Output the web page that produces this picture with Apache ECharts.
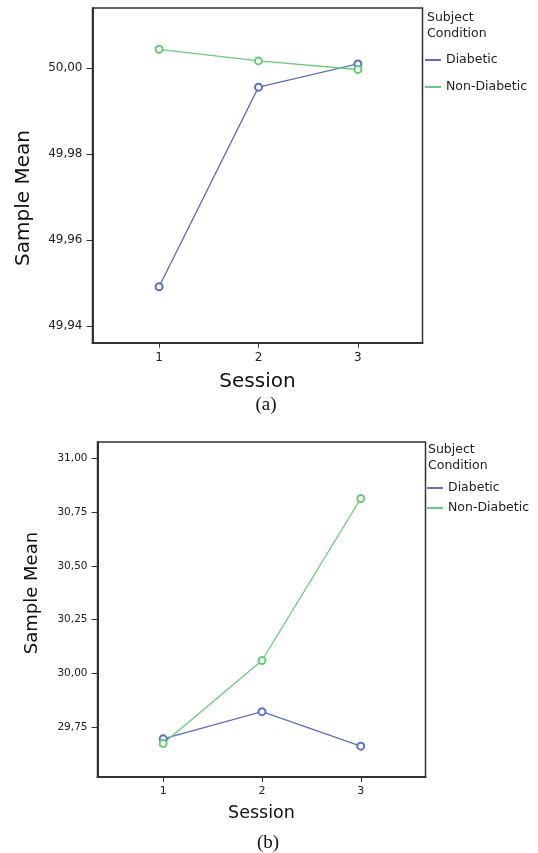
<!DOCTYPE html>
<html>
<head>
<meta charset="utf-8">
<script src="https://cdn.jsdelivr.net/npm/echarts@6/dist/echarts.min.js"></script>
<style>
  html, body { margin: 0; padding: 0; background: #fff; }
  #chart { width: 538px; height: 853px; }
</style>
</head>
<body>
<div id="chart"></div>
<script>
// sessions on the x axis
const sessions = [1, 2, 3];
const seriesNames = ['Diabetic', 'Non-Diabetic'];

// panel (a)
const diabeticA = [49.9491, 49.9955, 50.0009];
const nonDiabeticA = [50.0043, 50.0016, 49.9996];
const yTicksA = [49.94, 49.96, 49.98, 50.0];

// panel (b)
const diabeticB = [29.698, 29.824, 29.664];
const nonDiabeticB = [29.676, 30.061, 30.812];
const yTicksB = [29.75, 30.0, 30.25, 30.5, 30.75, 31.0];

const BLUE = '#5b6fc4';
const GREEN = '#66cc77';
const FONT = 'DejaVu Sans';

const chart = echarts.init(document.getElementById('chart'));

// comma decimals, like the original SPSS output
const fmt = (v) => v.toFixed(2).replace('.', ',');

function xAxisFor(gridIndex, min, max, fontSize) {
  return {
    type: 'value',
    gridIndex,
    min,
    max,
    axisLine: { show: true, lineStyle: { color: '#333', width: 2 } },
    axisTick: { show: true, customValues: sessions, length: 5, lineStyle: { color: '#333' } },
    axisLabel: { customValues: sessions, color: '#222', fontFamily: FONT, fontSize, margin: 9 },
    splitLine: { show: false },
    name: 'Session',
    nameLocation: 'middle',
    nameGap: gridIndex === 0 ? 29 : 27,
    nameTextStyle: { color: '#111', fontFamily: FONT, fontSize: gridIndex === 0 ? 20 : 17.5 }
  };
}

function yAxisFor(gridIndex, min, max, ticks, fontSize) {
  return {
    type: 'value',
    gridIndex,
    min,
    max,
    axisLine: { show: true, lineStyle: { color: '#333', width: 2 } },
    axisTick: { show: true, customValues: ticks, length: 6, lineStyle: { color: '#333' } },
    axisLabel: { customValues: ticks, formatter: fmt, color: '#222', fontFamily: FONT, fontSize, margin: 10 },
    splitLine: { show: false }
  };
}

function lineSeries(name, values, axisIndex, color) {
  return {
    name,
    type: 'line',
    xAxisIndex: axisIndex,
    yAxisIndex: axisIndex,
    data: sessions.map((s, i) => [s, values[i]]),
    color,
    symbol: 'emptyCircle',
    symbolSize: 7,
    lineStyle: { width: 1.3, color },
    itemStyle: { color, borderWidth: 1 },
    emphasis: { disabled: true },
    animation: false
  };
}

function legendAt(left, top, name, fontSize) {
  return {
    orient: 'vertical',
    left,
    top,
    padding: 0,
    data: [name],
    icon: 'rect',
    itemWidth: 16,
    itemHeight: 2,
    selectedMode: false,
    textStyle: { color: '#222', fontFamily: FONT, fontSize, lineHeight: 14 }
  };
}

const option = {
  backgroundColor: '#fff',
  animation: false,
  grid: [
    { left: 92.5, top: 8, width: 330, height: 334.7, show: true, borderColor: '#333', borderWidth: 1.5 },
    { left: 97.5, top: 442, width: 328, height: 335, show: true, borderColor: '#333', borderWidth: 1.5 }
  ],
  xAxis: [
    xAxisFor(0, 0.33, 3.65, 12),
    xAxisFor(1, 0.335, 3.655, 11)
  ],
  yAxis: [
    yAxisFor(0, 49.9361, 50.0139, yTicksA, 12),
    yAxisFor(1, 29.521, 31.074, yTicksB, 10.5)
  ],
  legend: [
    legendAt(425, 53, seriesNames[0], 12.5),
    legendAt(425, 80, seriesNames[1], 12.5),
    legendAt(427, 481, seriesNames[0], 12.5),
    legendAt(427, 501, seriesNames[1], 12.5)
  ],
  graphic: [
    { type: 'text', left: 427, top: 10, style: { text: 'Subject\nCondition', fill: '#222', font: '12.5px "DejaVu Sans"', lineHeight: 16 } },
    { type: 'text', left: 428, top: 442, style: { text: 'Subject\nCondition', fill: '#222', font: '12.5px "DejaVu Sans"', lineHeight: 16 } },
    { type: 'text', x: 24, y: 198, rotation: Math.PI / 2, style: { text: 'Sample Mean', fill: '#111', font: '20px "DejaVu Sans"', textAlign: 'center', textVerticalAlign: 'middle' } },
    { type: 'text', x: 32.5, y: 593, rotation: Math.PI / 2, style: { text: 'Sample Mean', fill: '#111', font: '18px "DejaVu Sans"', textAlign: 'center', textVerticalAlign: 'middle' } },
    { type: 'text', x: 266, y: 405, style: { text: '(a)', fill: '#111', font: '19px "Liberation Serif"', textAlign: 'center', textVerticalAlign: 'middle' } },
    { type: 'text', x: 268, y: 843, style: { text: '(b)', fill: '#111', font: '19px "Liberation Serif"', textAlign: 'center', textVerticalAlign: 'middle' } }
  ],
  series: [
    lineSeries(seriesNames[0], diabeticA, 0, BLUE),
    lineSeries(seriesNames[1], nonDiabeticA, 0, GREEN),
    lineSeries(seriesNames[0], diabeticB, 1, BLUE),
    lineSeries(seriesNames[1], nonDiabeticB, 1, GREEN)
  ]
};

chart.setOption(option);
</script>
</body>
</html>
